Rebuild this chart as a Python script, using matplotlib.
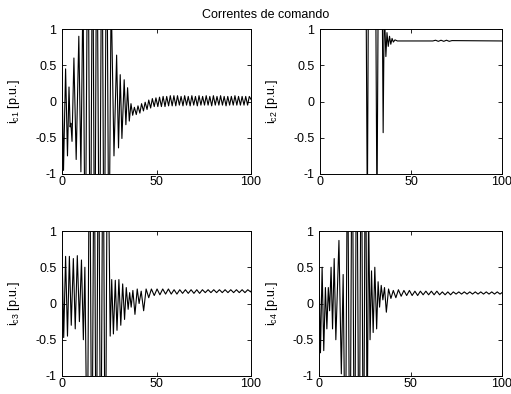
import matplotlib
matplotlib.use('Agg')
import matplotlib.pyplot as plt

plt.rcParams['font.family'] = ['Liberation Sans', 'DejaVu Sans']
plt.rcParams['mathtext.fontset'] = 'custom'
plt.rcParams['mathtext.rm'] = 'Liberation Sans'
plt.rcParams['mathtext.it'] = 'Liberation Sans'

# extremos (tempo, valor)
t_c1 = [0, 0.8, 1.9, 2.9, 3.7, 4.3, 4.7, 5.3, 6.3, 7.5, 8.9, 10.0, 11.1,
        12.3, 13.7, 15.0, 16.2, 17.3, 18.4, 19.8, 21.1, 22.3, 23.6, 24.8, 26.0,
        27.5, 28.9, 29.9, 30.8, 31.7, 32.9, 33.8, 34.7, 35.6, 36.5, 37.4,
        38.3, 39.3, 40.2, 41.2, 42.1, 43.1, 44.0, 45.0, 45.9, 46.9, 47.8, 48.8,
        49.7, 50.7, 51.6, 52.6, 53.5, 54.5, 55.4, 56.4, 57.3, 58.3, 59.2, 60.2,
        61.1, 62.1, 63.0, 64.0, 64.9, 65.9, 66.8, 67.8, 68.7, 69.7, 70.6, 71.6,
        72.5, 73.5, 74.4, 75.4, 76.3, 77.3, 78.2, 79.2, 80.1, 81.1, 82.0, 83.0,
        83.9, 84.9, 85.8, 86.8, 87.7, 88.7, 89.6, 90.6, 91.5, 92.5, 93.4, 94.4,
        95.3, 96.3, 97.2, 98.2, 99.1, 100.0]
v_c1 = [0.4, -0.95, 0.45, -0.75, 0.2, -0.35, -0.3, -0.55, 0.6, -0.8, 0.9, -0.97, 1.6,
        -2.5, 3, -3, 3, -3, 3, -3, 3, -3, 3, -2.5, 1.5,
        -0.75, 0.64, -0.64, 0.37, -0.51, 0.3, -0.32, 0.19, -0.27, -0.03, -0.19,
        -0.08, -0.18, -0.06, -0.16, -0.03, -0.13, -0.01, -0.11, 0.02, -0.09, 0.04, -0.07,
        0.05, -0.07, 0.06, -0.07, 0.07, -0.07, 0.07, -0.06, 0.08, -0.06, 0.08, -0.06,
        0.08, -0.05, 0.07, -0.06, 0.08, -0.05, 0.07, -0.06, 0.08, -0.05, 0.07, -0.06,
        0.08, -0.05, 0.07, -0.05, 0.08, -0.05, 0.07, -0.06, 0.08, -0.05, 0.07, -0.05,
        0.08, -0.05, 0.07, -0.06, 0.07, -0.05, 0.07, -0.05, 0.08, -0.05, 0.07, -0.05,
        0.07, -0.05, 0.07, -0.05, 0.07, 0.03]

t_c2 = [0, 25.3, 26.0, 26.6, 30.6, 31.3, 32.0, 34.2, 34.7, 35.3, 36.2, 36.8,
        37.5, 38.2, 38.9, 39.6, 40.3, 41.2, 42.5, 62.0, 63.5, 65.0, 66.5, 68.0,
        69.5, 71.0, 72.5, 100]
v_c2 = [1.6, 1.6, -1.6, 1.6, 1.6, -1.6, 1.6, 1.4, -0.43, 1.3, 0.62, 0.95,
        0.76, 0.9, 0.79, 0.87, 0.82, 0.85, 0.835, 0.835, 0.845, 0.83, 0.845, 0.83,
        0.845, 0.83, 0.84, 0.835]

t_c3 = [0, 0.9, 1.9, 2.9, 3.9, 4.9, 6.0, 7.0, 8.1, 9.2, 10.3, 11.3, 12.1,
        13.4, 14.6, 15.8, 17.0, 18.1, 19.3, 20.5, 21.7, 22.9, 24.1,
        25.5, 26.3, 27.2, 28.2, 29.1, 30.1, 31.1, 32.1, 33.1, 34.0, 35.0, 35.8,
        36.6, 37.5, 38.6, 39.8, 40.8, 41.9, 43.2, 44.5, 45.9, 47.3, 48.8,
        50.3, 51.8, 53.3, 54.8, 56.3, 57.8, 59.3, 60.8, 62.3, 63.8, 65.3, 66.8,
        68.3, 69.8, 71.3, 72.8, 74.3, 75.8, 77.3, 78.8, 80.3, 81.8, 83.3, 84.8,
        86.3, 87.8, 89.3, 90.8, 92.3, 93.8, 95.3, 96.8, 98.3, 99.8, 100]
v_c3 = [0.75, -0.47, 0.65, -0.45, 0.65, -0.3, 0.62, -0.35, 0.66, -0.25, 0.6, -0.5, 0.5,
        -2.5, 3, -3, 3, -3, 3, -3, 3, -3, 3,
        -0.45, 0.33, -0.42, 0.32, -0.37, 0.33, -0.3, 0.27, -0.22, 0.22, -0.08, 0.15,
        -0.05, 0.18, -0.15, 0.2, 0.0, 0.17, -0.1, 0.2, 0.08, 0.2, 0.11,
        0.2, 0.12, 0.2, 0.13, 0.2, 0.13, 0.19, 0.13, 0.19, 0.14, 0.19, 0.14,
        0.19, 0.14, 0.19, 0.14, 0.19, 0.15, 0.19, 0.15, 0.19, 0.15, 0.19, 0.15,
        0.19, 0.15, 0.19, 0.15, 0.19, 0.15, 0.19, 0.15, 0.19, 0.16, 0.17]

t_c4 = [0, 0.8, 1.7, 2.6, 3.5, 4.3, 5.1, 5.8, 6.6, 7.4, 8.3, 9.2, 10.9, 12.2, 13.2,
        14.4, 15.6, 16.9, 18.1, 19.4, 20.6, 21.9, 23.1, 24.3, 25.4, 26.3,
        27.1, 27.9, 28.7, 29.6, 30.5, 31.5, 32.3, 33.1, 34.0, 34.9, 35.8, 36.8,
        38.0, 39.3, 40.6, 42.0, 43.4, 44.9,
        46.4, 47.9, 49.4, 50.9, 52.4, 53.9, 55.4, 56.9, 58.4, 59.9, 61.4, 62.9,
        64.4, 65.9, 67.4, 68.9, 70.4, 71.9, 73.4, 74.9, 76.4, 77.9, 79.4, 80.9,
        82.4, 83.9, 85.4, 86.9, 88.4, 89.9, 91.4, 92.9, 94.4, 95.9, 97.4, 98.9, 100]
v_c4 = [0.5, -0.68, 0.5, -0.65, 0.22, -0.35, 0.22, -0.1, 0.5, -0.35, 0.62, -0.5, 0.87, -0.97, 0.4,
        -2.5, 2.5, -3, 3, -3, 3, -3, 3, -3, 3, -2.0,
        1.3, -0.5, 0.45, -0.4, 0.5, -0.35, 0.3, -0.05, 0.25, 0.05, 0.22, -0.12,
        0.2, 0.07, 0.18, 0.08, 0.19, 0.1,
        0.18, 0.11, 0.18, 0.11, 0.17, 0.11, 0.17, 0.12, 0.17, 0.12, 0.17, 0.12,
        0.17, 0.12, 0.16, 0.12, 0.16, 0.12, 0.16, 0.13, 0.16, 0.13, 0.16, 0.13,
        0.16, 0.13, 0.16, 0.13, 0.16, 0.13, 0.16, 0.13, 0.16, 0.13, 0.16, 0.13, 0.15]

rotulos = ['c1', 'c2', 'c3', 'c4']
series = [(t_c1, v_c1), (t_c2, v_c2), (t_c3, v_c3), (t_c4, v_c4)]
y_ticks = [-1, -0.5, 0, 0.5, 1]
y_labels = ['-1', '-0.5', '0', '0.5', '1']
x_ticks = [0, 50, 100]

fig = plt.figure(figsize=(5.11, 3.94), dpi=100)

# posicoes dos eixos em pixels (esq, topo, largura, altura, borda do rotulo y)
caixas = [(62, 29, 189, 145, 22), (320, 29, 182, 145, 280),
          (62, 231, 189, 145, 22), (319, 231, 183, 145, 280)]

for (x0, y0, w, h, xl), nome, (t, v) in zip(caixas, rotulos, series):
    ax = fig.add_axes([x0 / 511, 1 - (y0 + h) / 394, w / 511, h / 394])
    ax.plot(t, v, color='k', lw=0.8)
    ax.set_xlim(0, 100)
    ax.set_ylim(-1, 1)
    ax.set_xticks(x_ticks)
    ax.set_xticklabels([str(x) for x in x_ticks])
    ax.set_yticks(y_ticks)
    ax.set_yticklabels(y_labels)
    ax.tick_params(direction='in', top=True, right=True, length=3,
                   width=0.6, labelsize=9)
    ax.tick_params(axis='y', pad=4)
    ax.tick_params(axis='x', pad=1.5)
    for s in ax.spines.values():
        s.set_linewidth(0.7)
    ax.set_ylabel(r'i$_{\mathregular{%s}}$ [p.u.]' % nome, fontsize=9)
    ax.yaxis.set_label_coords((xl - x0) / w, 0.5)

fig.text(266 / 511, 1 - 15 / 394, 'Correntes de comando', ha='center', va='center',
         fontsize=9)

fig.savefig('out.png', dpi=100)
